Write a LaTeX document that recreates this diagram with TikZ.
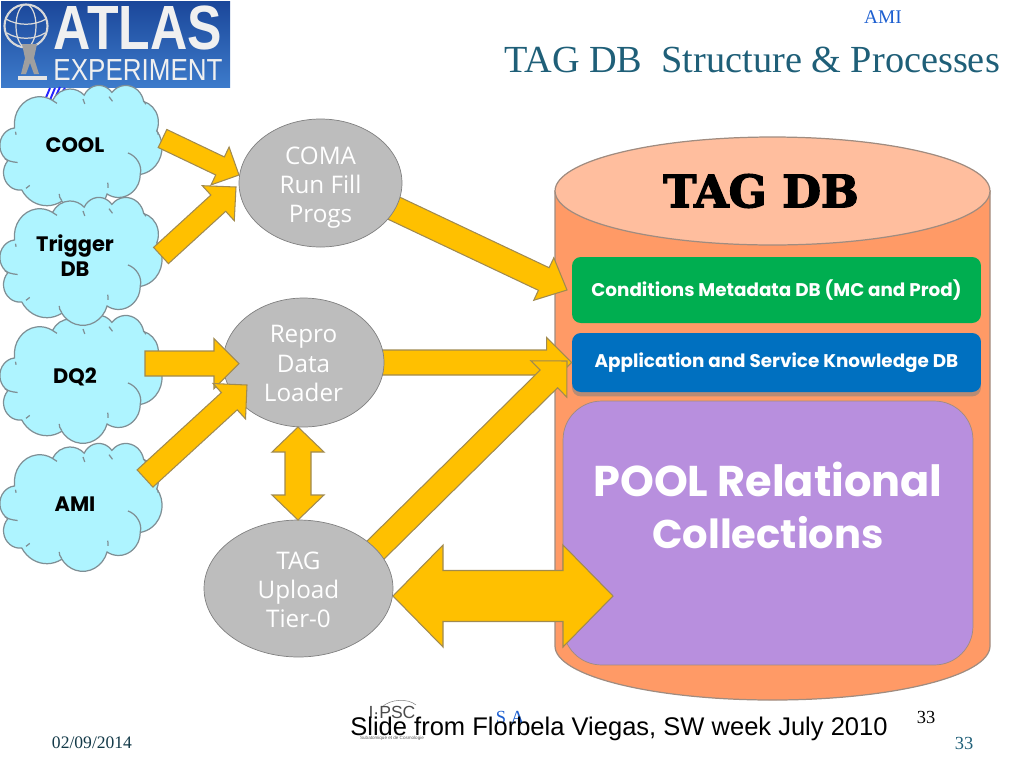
\documentclass[tikz,border=0pt]{standalone}
\usepackage{fontspec}
\setmainfont{Liberation Serif}
\setsansfont{Liberation Sans}
\newfontfamily\gothicfont{Poppins}
\newfontfamily\ovalfont{Open Sans}
\newfontfamily\slabfont[FakeBold=3]{DejaVu Serif Bold}
\usepackage{tikz}
\usetikzlibrary{shapes.geometric, calc, shadows}

\definecolor{arrowgold}{HTML}{FFC000}
\definecolor{arrowedge}{HTML}{A08A50}
\definecolor{cloudfill}{HTML}{AEF4FF}
\definecolor{cloudedge}{HTML}{7F8F95}
\definecolor{cylbody}{HTML}{FF9A66}
\definecolor{cyltop}{HTML}{FFBE9E}
\definecolor{cyledge}{HTML}{A08C80}
\definecolor{ovalfill}{HTML}{BDBDBD}
\definecolor{ovaledge}{HTML}{808080}
\definecolor{condgreen}{HTML}{00AE50}
\definecolor{appblue}{HTML}{0070C0}
\definecolor{poolpurple}{HTML}{B88FDE}
\definecolor{titleteal}{HTML}{1F5F78}
\definecolor{amiblue}{HTML}{1D5FD0}
\definecolor{logotop}{HTML}{1B479A}
\definecolor{logobot}{HTML}{3D7BCB}

\pgfdeclarelayer{cylinder}
\pgfdeclarelayer{under}
\pgfsetlayers{cylinder,under,main}

\newcommand{\ovaltop}[1]{\rule{0pt}{#1}}

\tikzset{
    oval/.style={ellipse, draw=ovaledge, fill=ovalfill, text=white, inner sep=0pt,
        font=\ovalfont\fontsize{13.8}{16.6}\selectfont, align=center},
    dbbox/.style={rectangle, rounded corners=5pt, text=white, inner sep=0pt,
        minimum width=8.18cm, font=\gothicfont\bfseries\fontsize{10.45}{12}\selectfont},
    cloudlabel/.style={font=\gothicfont\bfseries\fontsize{11.9}{14.2}\selectfont, align=center, text=black},
    blockarrow/.style={fill=arrowgold, draw=arrowedge, line width=0.6pt, line join=miter},
    pics/cloudshape/.style={code={
        \begin{scope}[xscale=0.375, yscale=0.296]
        \draw[fill=cloudfill, draw=cloudedge, line width=0.7pt]
            (39,143.7)
            arc[x radius=67.53, y radius=91.90, start angle=-187.74, end angle=-59.64]
            arc[x radius=53.33, y radius=72.67, start angle=-152.02, end angle=-45.45]
            arc[x radius=43.65, y radius=59.45, start angle=-153.49, end angle=-37.33]
            arc[x radius=48.57, y radius=65.95, start angle=-139.71, end angle=-10.21]
            arc[x radius=53.33, y radius=72.73, start angle=-74.77, end angle=23.21]
            arc[x radius=67.75, y radius=92.20, start angle=-37.53, end angle=81.86]
            arc[x radius=57.85, y radius=78.67, start angle=0.46, end angle=121.97]
            arc[x radius=67.52, y radius=92.15, start angle=16.84, end angle=146.24]
            arc[x radius=77.20, y radius=105.43, start angle=58.98, end angle=150.19]
            arc[x radius=43.60, y radius=59.18, start angle=-276.69, end angle=-136.90]
            arc[x radius=43.45, y radius=59.45, start angle=-239.65, end angle=-95.88]
            -- cycle;
        \draw[draw=cloudedge, line width=0.7pt]
            (46.93,261.77) .. controls (31,260) and (19,255) .. (13,249)
            (69.28,348.99) .. controls (72,347) and (76,343) .. (79,339)
            (164.78,390.90) .. controls (160,382) and (157,375) .. (158,368)
            (288.27,347.51) .. controls (289,340) and (288,334) .. (287,330)
            (341.29,229.54) .. controls (365,240) and (380,275) .. (374,300)
            (417.98,153.54) .. controls (420,158) and (422,163) .. (422,168)
            (383.24,54.26) .. controls (385,58) and (387,62) .. (389,65)
            (290.78,39.52) .. controls (294,45) and (297,50) .. (300,55)
            (221.41,47.20) .. controls (223,53) and (225,58) .. (226,64)
            (140,51.92) .. controls (144,55) and (148,59) .. (152,62)
            (41.27,157.89) .. controls (41.5,161) and (42.5,165) .. (43,168);
        \end{scope}
    }}
}

% one way block arrow: from, to, half shaft, half head, head length
\newcommand{\onearrow}[5]{
    \draw[blockarrow]
        ($(#1)!#3*0.02cm!90:(#2)$)
        -- ($(#2)!#5*0.02cm!(#1)!#3*0.02cm!90:(#2)$)
        -- ($(#2)!#5*0.02cm!(#1)!#4*0.02cm!90:(#2)$)
        -- (#2)
        -- ($(#2)!#5*0.02cm!(#1)!#4*0.02cm!-90:(#2)$)
        -- ($(#2)!#5*0.02cm!(#1)!#3*0.02cm!-90:(#2)$)
        -- ($(#1)!#3*0.02cm!-90:(#2)$) -- cycle;
}
% two way block arrow
\newcommand{\twoarrow}[5]{
    \draw[blockarrow]
        (#1)
        -- ($(#1)!#5*0.02cm!(#2)!#4*0.02cm!90:(#2)$)
        -- ($(#1)!#5*0.02cm!(#2)!#3*0.02cm!90:(#2)$)
        -- ($(#2)!#5*0.02cm!(#1)!#3*0.02cm!-90:(#1)$)
        -- ($(#2)!#5*0.02cm!(#1)!#4*0.02cm!-90:(#1)$)
        -- (#2)
        -- ($(#2)!#5*0.02cm!(#1)!#4*0.02cm!90:(#1)$)
        -- ($(#2)!#5*0.02cm!(#1)!#3*0.02cm!90:(#1)$)
        -- ($(#1)!#5*0.02cm!(#2)!#3*0.02cm!-90:(#2)$)
        -- ($(#1)!#5*0.02cm!(#2)!#4*0.02cm!-90:(#2)$)
        -- cycle;
}

\begin{document}
\begin{tikzpicture}[x=0.02cm, y=-0.02cm]
    \useasboundingbox (0,0) rectangle (1024,768);

    % ATLAS logo
    \shade[top color=logotop, bottom color=logobot] (1,1) rectangle (230,87);
    \draw[white!70!gray, line width=1.2pt] (26,26) circle[radius=21.5];
    \draw[white!70!gray, line width=0.7pt] (26,26) ellipse[x radius=10, y radius=21.5]
        (6,19) .. controls (18,26) and (34,26) .. (46,19) (7,33) .. controls (18,40) and (34,40) .. (45,33);
    \fill[gray!75!white] (22,44) -- (37,44) -- (34,58) -- (39,74) -- (34,74) -- (30,63) -- (26,74) -- (21,74) -- (25,58) -- cycle;
    \fill[white!80!gray] (18,76) rectangle (47,80);
    \node[text=white!88!gray, font=\sffamily\bfseries\fontsize{29.4}{30}\selectfont, inner sep=0pt, yscale=1.21, transform shape] (atlaslogo) at (138,27.5) {ATLAS};
    \node[text=white!88!gray, font=\sffamily\fontsize{14.8}{16}\selectfont, inner sep=0pt, yscale=1.17, transform shape] (experimentlogo) at (138,70) {EXPERIMENT};

    % stray marks behind the first cloud
    \draw[blue!85!white, line width=1.1pt] (45,100) -- (50,88) (50,100) -- (55,88) (55,98) -- (60,87) (60,95) -- (65,88);

    % clouds
    \pic at (0,85) {cloudshape};
    \pic at (0,443) {cloudshape};
    \pic at (0,315) {cloudshape};
    \pic at (0,197) {cloudshape};
    \node[cloudlabel] (cool) at (75,145) {COOL};
    \node[cloudlabel] (trigger) at (75,256) {Trigger\\DB};
    \node[cloudlabel] (dqtwo) at (75,377) {DQ2};
    \node[cloudlabel] (ami) at (75,504) {AMI};

    % process ovals
    \node[oval, minimum width=3.26cm, minimum height=2.56cm] (coma) at (320.5,183) {\ovaltop{15pt}COMA\\Run Fill\\Progs};
    \node[oval, minimum width=3.22cm, minimum height=2.58cm] (repro) at (303.5,362.5) {\ovaltop{11pt}Repro\\Data\\Loader};
    \node[oval, minimum width=3.78cm, minimum height=2.74cm] (upload) at (298.5,588.5) {\ovaltop{11.5pt}TAG\\Upload\\Tier-0};

    % TAG DB cylinder
    \begin{pgfonlayer}{cylinder}
        \draw[fill=cylbody, draw=cyledge, line width=0.7pt] (555,191) -- (555,646)
            arc[x radius=217.5, y radius=54, start angle=180, end angle=0] -- (990,191) -- cycle;
        \node[ellipse, draw=cyledge, fill=cyltop, line width=0.7pt, minimum width=8.7cm, minimum height=2.16cm, inner sep=0pt] (tagdb) at (772.5,191) {};
        \node[dbbox, fill=condgreen, minimum height=1.32cm] (conditions) at (776.5,290) {Conditions Metadata DB (MC and Prod)};
        \node[dbbox, fill=appblue, minimum height=1.18cm, drop shadow={shadow xshift=0pt, shadow yshift=-2.5pt, opacity=0.55}] (application) at (776.5,362.5) {Application and Service Knowledge DB};
        \node[rectangle, rounded corners=22pt, draw=cyledge, fill=poolpurple, minimum width=8.2cm, minimum height=5.28cm] (pool) at (768,533) {};
    \end{pgfonlayer}
    \node[font=\slabfont\fontsize{25.4}{27}\selectfont, inner sep=0pt] (tagdbtext) at (761,191) {TAG DB};
    \node[text=white, font=\gothicfont\bfseries\fontsize{24.5}{29.5}\selectfont, align=center, inner sep=0pt] (pooltext) at (768,505) {POOL Relational\\{\fontsize{22.8}{29.5}\selectfont Collections}};

    % free ends of the arrows
    \coordinate (a1) at (162.5,138.5);
    \coordinate (a2) at (161,255.5);
    \coordinate (a3) at (145,363.5);
    \coordinate (a4) at (145,478.5);
    \coordinate (a5) at (330,178);
    \coordinate (a7) at (330,595);
    \coordinate (b1) at (239,175);
    \coordinate (b2) at (236,187);
    \coordinate (b3) at (239,363.5);
    \coordinate (b4) at (247,385);
    \coordinate (c1) at (567,290);
    \coordinate (c2) at (567,361);
    \coordinate (d1) at (298,427);
    \coordinate (d2) at (298,520);
    \coordinate (e1) at (393,596);
    \coordinate (e2) at (613,596);

    % arrows
    \onearrow{a1}{b1}{10}{21}{21}
    \onearrow{a2}{b2}{11}{23.7}{24}
    \onearrow{a3}{b3}{12.5}{25}{25}
    \onearrow{a4}{b4}{11.7}{24}{24}
    \twoarrow{d1}{d2}{13}{26}{25}
    \begin{pgfonlayer}{under}
        \onearrow{a5}{c1}{12.5}{23.5}{25.7}
        \onearrow{repro.center}{application.west}{12.5}{25}{25}
        \onearrow{a7}{c2}{12.4}{25.5}{25.5}
        \twoarrow{e1}{e2}{25.5}{51}{50}
    \end{pgfonlayer}

    % title
    \node[text=amiblue, font=\fontsize{11}{13}\selectfont, inner sep=0pt] (amilink) at (883,17) {AMI};
    \node[text=titleteal, font=\fontsize{21.8}{26}\selectfont, inner sep=0pt] (title) at (752,60) {TAG DB\ \ Structure \& Processes};

    % footer
    \draw[gray, line width=0.3pt] (382,707) .. controls (390,699) and (408,698) .. (416,705);
    \node[text=gray!60!black, font=\sffamily\fontsize{10}{12}\selectfont, inner sep=0pt] (lpsc) at (392,712) {I·PSC};
    \node[text=gray!70!black, font=\sffamily\fontsize{2.6}{3}\selectfont, inner sep=0pt] (lpscsub) at (392,738) {Subatomique et de Cosmologie};
    \node[text=amiblue, font=\fontsize{10.5}{12}\selectfont, inner sep=0pt] (author) at (510,717) {S A};
    \node[font=\sffamily\fontsize{14.53}{16}\selectfont, inner sep=0pt] (credit) at (619,729) {Slide from Florbela Viegas, SW week July 2010};
    \node[font=\fontsize{10.5}{12}\selectfont, inner sep=0pt] (pagenum) at (926,717) {33};
    \node[text=titleteal, font=\fontsize{10.5}{12}\selectfont, inner sep=0pt] (pagefoot) at (964,743) {33};
    \node[text=titleteal!60!black, font=\fontsize{10}{12}\selectfont, inner sep=0pt] (date) at (92,743) {02/09/2014};
\end{tikzpicture}
\end{document}
